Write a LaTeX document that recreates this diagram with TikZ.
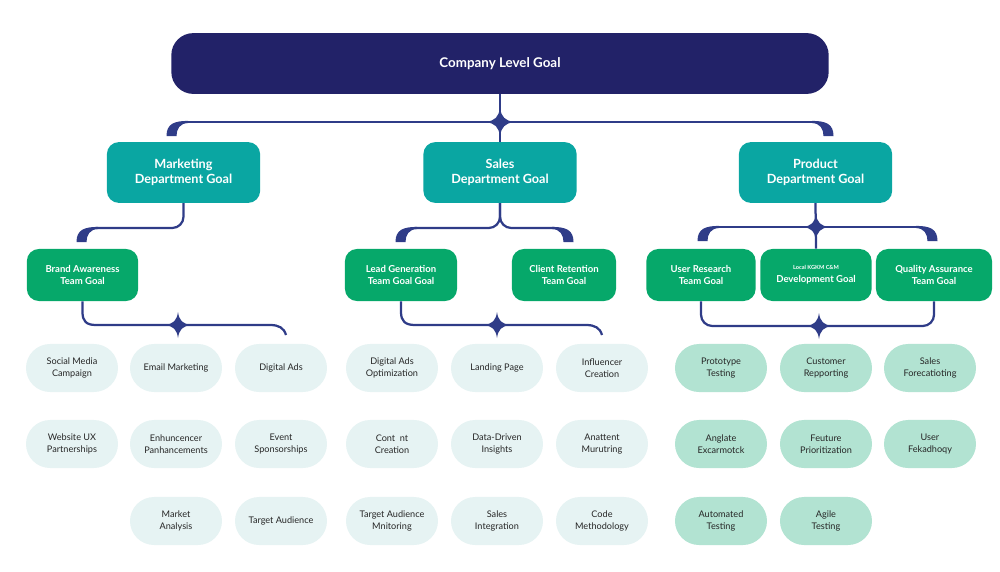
\documentclass[tikz,border=0pt]{standalone}
\usepackage{fontspec}
\setmainfont{Lato}
\usepackage{tikz}
\usetikzlibrary{positioning}
\definecolor{navyc}{HTML}{222268}
\definecolor{linkc}{HTML}{2F3C88}
\definecolor{tealc}{HTML}{0AA6A2}
\definecolor{greenc}{HTML}{06A86A}
\definecolor{palec}{HTML}{E6F3F3}
\definecolor{mintc}{HTML}{B2E3D2}
\tikzset{
  topgoal/.style={rectangle, rounded corners=0.55cm, fill=navyc, text=white, minimum width=16.43cm, minimum height=1.52cm, font=\fontsize{9.5}{11}\selectfont\bfseries},
  dept/.style={rectangle, rounded corners=0.3cm, fill=tealc, text=white, minimum width=3.83cm, minimum height=1.52cm, align=center, font=\fontsize{9}{10.7}\selectfont\bfseries},
  team/.style={rectangle, rounded corners=0.3cm, fill=greenc, text=white, minimum width=2.78cm, minimum height=1.3cm, align=center, font=\fontsize{6.8}{9}\selectfont\bfseries},
  lf/.style={rectangle, rounded corners=0.6cm, fill=palec, text=black!85, minimum width=2.3cm, minimum height=1.2cm, align=center, font=\fontsize{6.5}{8.3}\selectfont},
  lfp/.style={lf, fill=mintc},
  link/.style={draw=linkc, line width=1.6pt},
  hook/.pic={\fill[linkc] (16,-1.1) .. controls (2,-1.1) and (-5.5,2) .. (-5.5,14) -- (4.5,14) .. controls (4.5,7) and (8,1.1) .. (16,1.1) -- cycle;},
  jn/.pic={\fill[linkc] (0,-13) .. controls (1.2,-4.5) and (4.5,-1.2) .. (13,0) .. controls (4.5,1.2) and (1.2,4.5) .. (0,13) .. controls (-1.2,4.5) and (-4.5,1.2) .. (-13,0) .. controls (-4.5,-1.2) and (-1.2,-4.5) .. cycle;}
}

\begin{document}
\begin{tikzpicture}[x=0.025cm, y=-0.025cm]
  \useasboundingbox (0,0) rectangle (1000,572);

  % Company goal
  \node[topgoal] (company) at (500,63.5) {Company Level Goal};

  % Department goals
  \node[dept] (mkt) at (183.5,172.5) {Marketing\\Department Goal};
  \node[dept] (sales) at (500,172.5) {Sales\\Department Goal};
  \node[dept] (prod) at (815.5,172.5) {Product\\Department Goal};

  % Team goals
  \node[team] (brand) at (82.5,275) {Brand Awareness\\Team Goal};
  \node[team, minimum width=2.8cm] (lead) at (401,275) {Lead Generation\\Team Goal Goal};
  \node[team, minimum width=2.6cm] (client) at (564,275) {Client Retention\\Team Goal};
  \node[team, minimum width=2.73cm] (ur) at (701,275) {User Research\\Team Goal};
  \node[team] (dev) at (816,275) {{\fontsize{4}{5}\selectfont Local KGKM C\&M}\\Development Goal};
  \node[team, minimum width=2.9cm] (qa) at (934,275) {Quality Assurance\\Team Goal};

  % Company -> departments
  \coordinate (j1) at (500,122);
  \draw[link] (company.south) -- (sales.north);
  \draw[link] (186,122) -- (814,122);
  \pic at (172,122) {hook};
  \pic[xscale=-1] at (828,122) {hook};
  \pic[scale=1.1] at (j1) {jn};

  % Marketing -> team
  \draw[link] (mkt.south) [rounded corners=8pt] |- (96,228);
  \pic at (82,228) {hook};

  % Sales -> teams
  \draw[link] (sales.south) [rounded corners=8pt] |- (415,228);
  \draw[link] (sales.south) [rounded corners=8pt] |- (554,228);
  \pic at (401,228) {hook};
  \pic[xscale=-1] at (568,228) {hook};

  % Product -> teams
  \coordinate (j2) at (816,227);
  \draw[link] (prod.south) -- (dev.north);
  \draw[link] (717,227) -- (918,227);
  \pic at (703,227) {hook};
  \pic[xscale=-1] at (932,227) {hook};
  \pic at (j2) {jn};

  % Team -> tasks braces
  \coordinate (j3) at (178,325);
  \coordinate (j4) at (497,325);
  \coordinate (j5) at (819,326);
  \draw[link] (brand.south) -- (82.5,312) .. controls (82.5,321) and (86,325) .. (96,325) -- (270,325) .. controls (279,325) and (284,328) .. (286,335);
  \draw[link] (lead.south) -- (401,312) .. controls (401,321) and (405,325) .. (415,325) -- (586,325) .. controls (595,325) and (600,328) .. (602,335);
  \draw[link, rounded corners=8pt] (ur.south) |- (j5) -| (qa.south);
  \pic at (j3) {jn};
  \pic at (j4) {jn};
  \pic at (j5) {jn};

  % Marketing tasks
  \node[lf] (m1) at (72,368) {Social Media\\Campaign};
  \node[lf] (m2) at (176,368) {Email Marketing};
  \node[lf] (m3) at (281,368) {Digital Ads};
  \node[lf] (m4) at (72,444) {Website UX\\Partnerships};
  \node[lf] (m5) at (176,444) {Enhuncencer\\Panhancements};
  \node[lf] (m6) at (281,444) {Event\\Sponsorships};
  \node[lf] (m7) at (176,521) {Market\\Analysis};
  \node[lf] (m8) at (281,521) {Target Audience};

  % Sales tasks
  \node[lf] (s1) at (392,368) {Digital Ads\\Optimization};
  \node[lf] (s2) at (497,368) {Landing Page};
  \node[lf] (s3) at (602,368) {Influencer\\Creation};
  \node[lf] (s4) at (392,444) {Cont\ \ nt\\Creation};
  \node[lf] (s5) at (497,444) {Data-Driven\\Insights};
  \node[lf] (s6) at (602,444) {Anattent\\Murutring};
  \node[lf] (s7) at (392,521) {Target Audience\\Mnitoring};
  \node[lf] (s8) at (497,521) {Sales\\Integration};
  \node[lf] (s9) at (602,521) {Code\\Methodology};

  % Product tasks
  \node[lfp] (p1) at (721,368) {Prototype\\Testing};
  \node[lfp] (p2) at (826,368) {Customer\\Repporting};
  \node[lfp] (p3) at (930,368) {Sales\\Forecatioting};
  \node[lfp] (p4) at (721,444) {Anglate\\Excarmotck};
  \node[lfp] (p5) at (826,444) {Feuture\\Prioritization};
  \node[lfp] (p6) at (930,444) {User\\Fekadhoqy};
  \node[lfp] (p7) at (721,521) {Automated\\Testing};
  \node[lfp] (p8) at (826,521) {Agile\\Testing};
\end{tikzpicture}
\end{document}
